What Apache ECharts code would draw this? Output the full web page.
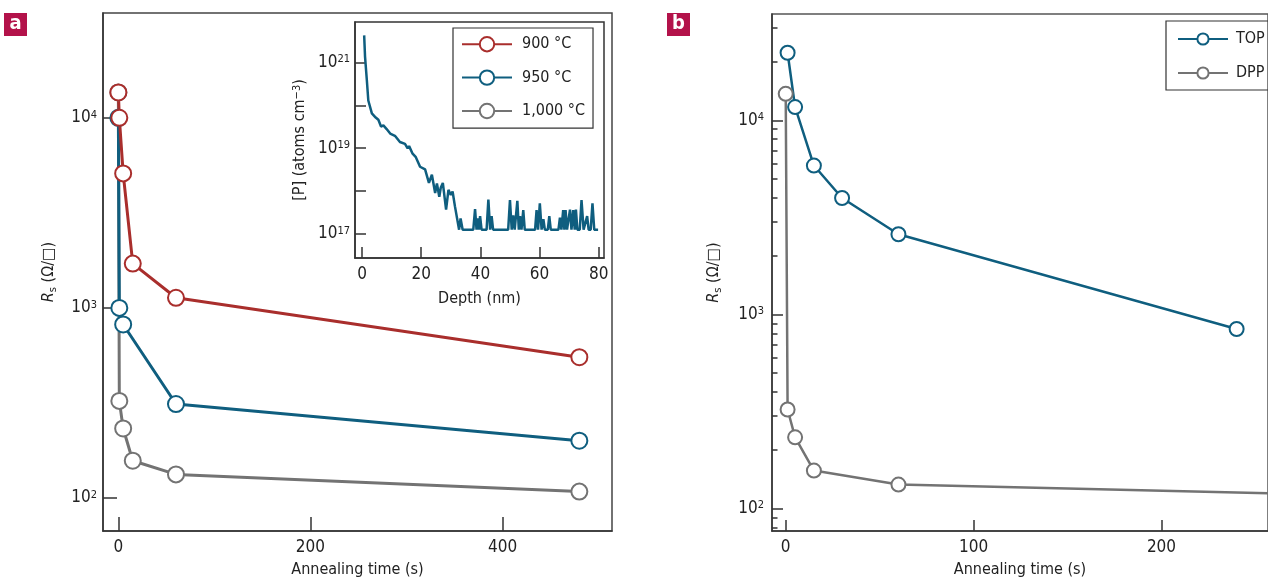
<!DOCTYPE html>
<html>
<head>
<meta charset="utf-8">
<script src="https://cdn.jsdelivr.net/npm/echarts@6.0.0/dist/echarts.min.js"></script>
<style>
  body { margin: 0; background: #fff; }
  #main { width: 1268px; height: 583px; }
</style>
</head>
<body>
<div id="main"></div>
<script>
// panel a: sheet resistance vs annealing time
const timeA900 = [0, 1, 5, 15, 60, 480];
const rs900 = [13600, 10000, 5100, 1710, 1130, 550];
const timeA950 = [0, 1, 5, 60, 480];
const rs950 = [10000, 1000, 818, 312, 200];
const timeA1000 = [0, 1, 5, 15, 60, 480];
const rs1000 = [13600, 324, 232, 157, 133, 108];

// inset: P depth profile
const depth = [0.7, 1.0, 1.6, 2.1, 3.3, 4.6, 5.5, 6.4, 7.2, 8.3, 9.5, 11.1, 12.8, 14.5, 15.4, 15.9, 17.0, 18.1, 19.6, 21.3,
    22.6, 23.6, 24.7, 25.3, 26.1, 26.6, 27.3, 28.4, 29.2, 30.0, 30.6, 31.4, 32.8, 33.3, 34.0,
    37.6, 38.2, 38.7, 39.1, 39.5, 39.9, 40.4, 42.1, 42.7, 43.3, 43.8, 44.3, 49.4, 50.0, 50.6, 51.1, 51.6,
    52.0, 52.5, 53.0, 53.4, 53.9, 54.5, 55.0, 58.5, 59.0, 59.5, 60.1, 60.7, 61.3, 61.8, 62.8, 63.3, 63.8,
    66.4, 66.9, 67.4, 68.0, 68.4, 68.8, 69.3, 70.3, 70.8, 71.4, 71.9, 72.3, 72.8, 73.6, 74.2, 74.9,
    75.5, 76.1, 76.6, 77.3, 77.9, 78.5, 79.8];
const conc = [4.3e21, 1.35e21, 3.9e20, 1.3e20, 6.5e19, 5.2e19, 4.6e19, 3.2e19, 3.4e19, 2.8e19, 2.2e19, 1.95e19, 1.4e19, 1.26e19, 1.0e19, 1.12e19, 7.6e18, 6.3e18, 3.7e18, 3.2e18,
    1.55e18, 2.4e18, 9e17, 1.5e18, 7.4e17, 1.2e18, 1.55e18, 3.7e17, 1.07e18, 8.1e17, 9.8e17, 4.4e17, 1.26e17, 2.3e17, 1.26e17,
    1.26e17, 3.8e17, 1.26e17, 2.3e17, 1.26e17, 2.6e17, 1.26e17, 1.26e17, 6.3e17, 1.26e17, 2.6e17, 1.26e17, 1.26e17, 6.2e17, 1.26e17, 2.7e17, 1.26e17,
    1.26e17, 5.9e17, 1.26e17, 2.6e17, 1.26e17, 3.6e17, 1.26e17, 1.26e17, 3.6e17, 1.26e17, 5.2e17, 1.26e17, 2.2e17, 1.26e17, 1.26e17, 2.6e17, 1.26e17,
    1.26e17, 2.4e17, 1.26e17, 3.6e17, 1.26e17, 3.6e17, 1.26e17, 3.7e17, 1.26e17, 3.6e17, 1.26e17, 3.7e17, 1.26e17, 1.26e17, 6.2e17, 1.26e17,
    1.26e17, 2.6e17, 1.26e17, 1.26e17, 5.2e17, 1.26e17, 1.26e17];

// panel b
const timeTop = [1, 5, 15, 30, 60, 240];
const rsTop = [22300, 11700, 5850, 3980, 2590, 842];
const timeDpp = [0, 1, 5, 15, 60, 480];
const rsDpp = [13700, 324, 233, 157, 133, 107];

// tick positions
const ticksA = [0, 200, 400];
const ticksInset = [0, 20, 40, 60, 80];
const ticksB = [0, 100, 200];
const decadesRs = [100, 1000, 10000];
const decadesP = [1e17, 1e18, 1e19, 1e20, 1e21];
const labelsP = [1e17, 1e19, 1e21];
const minorB = [80, 90, 200, 300, 400, 500, 600, 700, 800, 900, 2000, 3000, 4000, 5000, 6000, 7000, 8000, 9000, 20000, 30000];

const RED = '#a92e2c';
const BLUE = '#0f5e7f';
const GRAY = '#737373';
const FONT = '"DejaVu Sans Condensed", sans-serif';
const TXT = '#222';
const FS = 16;
const TICK_FS = 17;

function pairs(xs, ys) {
    return xs.map((x, i) => [x, ys[i]]);
}

function powLabel(v) {
    return '10{sup|' + Math.round(Math.log10(v)) + '}';
}

const supRich = {
    sup: { fontSize: 11, fontFamily: FONT, color: TXT, verticalAlign: 'top', lineHeight: 11 }
};

function xAxisOf(grid, min, max, ticks, tickLen, name, gap) {
    return {
        gridIndex: grid, type: 'value', min: min, max: max,
        axisLine: { show: true, onZero: false, lineStyle: { color: '#333', width: 1.5 } },
        axisTick: { inside: true, length: tickLen, customValues: ticks, lineStyle: { color: '#333', width: 1.5 } },
        axisLabel: { customValues: ticks, margin: 8, fontSize: TICK_FS, fontFamily: FONT, color: TXT },
        splitLine: { show: false },
        name: name, nameLocation: 'middle', nameGap: gap,
        nameTextStyle: { fontSize: FS, fontFamily: FONT, color: TXT }
    };
}

function logAxisOf(grid, min, max, ticks, labels, tickLen, margin) {
    return {
        gridIndex: grid, type: 'log', logBase: 10, min: min, max: max, position: 'left',
        axisLine: { show: true, onZero: false, lineStyle: { color: '#333', width: 1.5 } },
        axisTick: { inside: true, length: tickLen, customValues: ticks, lineStyle: { color: '#333', width: 1.5 } },
        axisLabel: {
            customValues: labels, margin: margin, fontSize: TICK_FS, fontFamily: FONT, color: TXT,
            formatter: powLabel, rich: supRich
        },
        splitLine: { show: false }
    };
}

const rsName = {
    name: '{i|R}{s|s} (Ω/□)', nameLocation: 'middle',
    nameTextStyle: {
        fontSize: FS, fontFamily: FONT, color: TXT,
        rich: {
            i: { fontSize: FS, fontFamily: FONT, fontStyle: 'italic', color: TXT, lineHeight: 20 },
            s: { fontSize: 11, fontFamily: FONT, color: TXT, verticalAlign: 'bottom', lineHeight: 11 }
        }
    }
};

let yA = logAxisOf(0, 67, 35600, decadesRs, decadesRs, 14, 6);
Object.assign(yA, rsName, { nameGap: 44 });

let yInset = logAxisOf(1, 2.75e16, 8.8e21, decadesP, labelsP, 11, 5);
Object.assign(yInset, {
    name: '[P] (atoms cm{sup|−3})', nameLocation: 'middle', nameGap: 47,
    nameTextStyle: { fontSize: FS, fontFamily: FONT, color: TXT, rich: supRich }
});

let yB = logAxisOf(2, 76.7, 35300, decadesRs, decadesRs, 11, 8);
Object.assign(yB, rsName, { nameGap: 48 });

let yBminor = logAxisOf(2, 76.7, 35300, minorB, [], 5.5, 8);
yBminor.axisLine.show = false;
yBminor.axisLabel = { show: false };

function rsSeries(name, color, xIdx, yIdx, data, size, width) {
    return {
        name: name, type: 'line', xAxisIndex: xIdx, yAxisIndex: yIdx,
        data: data, symbol: 'emptyCircle', symbolSize: size,
        lineStyle: { color: color, width: width },
        itemStyle: { color: color, borderWidth: width },
        emphasis: { disabled: true }
    };
}

let myChart = echarts.init(document.getElementById('main'), null, { renderer: 'canvas' });

let option = {
    animation: false,
    backgroundColor: '#fff',
    grid: [
        { left: 103, top: 13, width: 509, height: 520, show: true, borderColor: '#444', borderWidth: 1.5 },
        { left: 355, top: 22, width: 249, height: 236, show: true, borderColor: '#333', borderWidth: 1.5 },
        { left: 772, top: 14, width: 506, height: 518, show: true, borderColor: '#555', borderWidth: 1.5 }
    ],
    xAxis: [
        xAxisOf(0, -16, 514, ticksA, 14, 'Annealing time (s)', 31),
        xAxisOf(1, -2.4, 81.8, ticksInset, 11, 'Depth (nm)', 33),
        xAxisOf(2, -7.3, 256.7, ticksB, 11, 'Annealing time (s)', 31)
    ],
    yAxis: [yA, yInset, yB, yBminor],
    legend: [
        {
            data: ['900 °C', '950 °C', '1,000 °C'], orient: 'vertical', left: 453, top: 28,
            itemWidth: 50, itemHeight: 18, itemGap: 17, padding: [8, 8, 9, 8],
            borderColor: '#333', borderWidth: 1.2, selectedMode: false,
            textStyle: { fontSize: FS, fontFamily: FONT, color: TXT, padding: [0, 0, 0, 5] }
        },
        {
            data: ['TOP', 'DPP'], orient: 'vertical', left: 1166, top: 21,
            itemWidth: 50, itemHeight: 14, itemGap: 18, padding: [10, 40, 9, 11],
            borderColor: '#333', borderWidth: 1.2, selectedMode: false,
            textStyle: { fontSize: FS, fontFamily: FONT, color: TXT, padding: [0, 0, 0, 3] }
        }
    ],
    graphic: [
        { type: 'rect', left: 4, top: 13, shape: { width: 23, height: 23 }, style: { fill: '#b3124a' } },
        { type: 'text', x: 15.5, y: 24, style: { text: 'a', fill: '#fff', font: 'bold 20px ' + FONT, textAlign: 'center', textVerticalAlign: 'middle' } },
        { type: 'rect', left: 667, top: 13, shape: { width: 23, height: 23 }, style: { fill: '#b3124a' } },
        { type: 'text', x: 678.5, y: 24, style: { text: 'b', fill: '#fff', font: 'bold 20px ' + FONT, textAlign: 'center', textVerticalAlign: 'middle' } }
    ],
    series: [
        rsSeries('1,000 °C', GRAY, 0, 0, pairs(timeA1000, rs1000), 16, 3),
        rsSeries('950 °C', BLUE, 0, 0, pairs(timeA950, rs950), 16, 3),
        rsSeries('900 °C', RED, 0, 0, pairs(timeA900, rs900), 16, 3),
        {
            name: 'profile', type: 'line', xAxisIndex: 1, yAxisIndex: 1,
            data: pairs(depth, conc), showSymbol: false,
            lineStyle: { color: BLUE, width: 2.5 }, emphasis: { disabled: true }
        },
        rsSeries('DPP', GRAY, 2, 2, pairs(timeDpp, rsDpp), 14, 2.5),
        rsSeries('TOP', BLUE, 2, 2, pairs(timeTop, rsTop), 14, 2.5)
    ]
};

myChart.setOption(option);
</script>
</body>
</html>
